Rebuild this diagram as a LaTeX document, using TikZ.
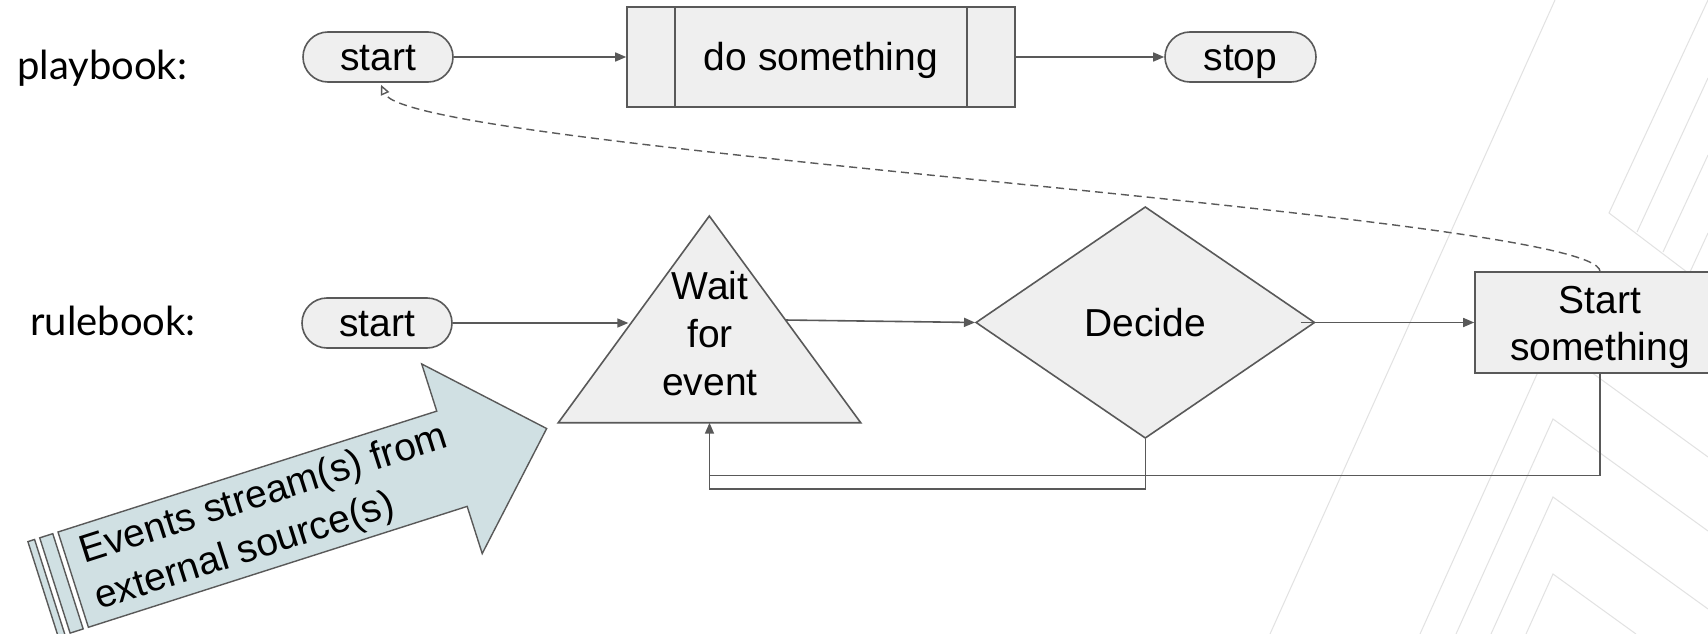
\documentclass[tikz,border=0pt]{standalone}
\usepackage{fontspec}
\setmainfont{Liberation Sans}
\newfontfamily\lanefont{Lato}
\usetikzlibrary{arrows.meta,shapes.geometric,calc}

\definecolor{lineGray}{HTML}{595959}
\definecolor{shapeFill}{HTML}{EFEFEF}
\definecolor{streamFill}{HTML}{D0E0E3}
\definecolor{decoGray}{HTML}{E2E2E2}

\tikzset{
  shapetext/.style={font=\fontsize{39}{48}\selectfont, text=black},
  onelinetext/.style={text height=35.3pt, text depth=8.3pt},
  pill/.style={draw=lineGray, fill=shapeFill, line width=1.6pt, rounded corners=25pt,
    minimum width=150pt, minimum height=50pt, inner sep=0pt, shapetext, onelinetext},
  box/.style={draw=lineGray, fill=shapeFill, line width=1.6pt, inner sep=0pt, shapetext},
  flow/.style={draw=lineGray, line width=1.6pt, -{Triangle[length=11pt,width=9pt]}},
  link/.style={draw=lineGray, line width=1.6pt},
  feedback/.style={draw=lineGray, line width=1.4pt, dash pattern=on 8pt off 5pt,
    -{Triangle[open,length=10pt,width=9pt]}},
  lanelabel/.style={font=\lanefont\fontsize{40}{46}\selectfont, anchor=base west, inner sep=0pt},
  deco/.style={draw=decoGray, line width=1pt},
  streampart/.style={draw=lineGray, fill=streamFill, line width=1.4pt, line join=miter},
}

\begin{document}
\begin{tikzpicture}[x=1pt,y=-1pt]
\useasboundingbox (0,0) rectangle (1708,634);
\fill[white] (0,0) rectangle (1708,634);
\clip (0,0) rectangle (1708,634);

% faint chevron pattern of the slide background
\draw[deco] (1555,0) -- (1270,634);
\draw[deco] (1708,0) -- (1609,213) -- (1708,288);
\draw[deco] (1637,232) -- (1708,78);
\draw[deco] (1663,252) -- (1708,155);
\draw[deco] (1690,272) -- (1708,233);
\draw[deco] (1420,634) -- (1551,343) -- (1708,457);
\draw[deco] (1456,634) -- (1553,419) -- (1708,531);
\draw[deco] (1491,634) -- (1553,497) -- (1708,609);
\draw[deco] (1526,634) -- (1553,574) -- (1636,634);

% lane labels
\node[lanelabel] (pb) at (17,79.5) {playbook:};
\node[lanelabel] (rb) at (30,335.5) {rulebook:};

% playbook lane
\node[pill] (pstart) at (378,57) {start};
\node[box, onelinetext, minimum width=388pt, minimum height=100pt] (do) at (821,57) {do something};
\draw[link] ([xshift=49pt]do.north west) -- ([xshift=49pt]do.south west);
\draw[link] ([xshift=-49pt]do.north east) -- ([xshift=-49pt]do.south east);
\node[pill, minimum width=151pt] (stop) at (1240.5,57) {stop};
\draw[flow] (pstart) -- (do);
\draw[flow] (do) -- (stop);

% rulebook lane
\node[pill] (rstart) at (377,323) {start};

\coordinate (tA) at (709.3,216);
\coordinate (tL) at (558.3,422.7);
\coordinate (tR) at (860.7,422.7);
\filldraw[draw=lineGray, fill=shapeFill, line width=1.6pt, line join=miter] (tL) -- (tA) -- (tR) -- cycle;
\node[shapetext, align=center, inner sep=0pt] (wait) at (710,333.3) {Wait\\for\\event};

\node[diamond, draw=lineGray, fill=shapeFill, line width=1.6pt, minimum width=339pt,
  minimum height=231.6pt, inner sep=0pt, shapetext, onelinetext] (decide) at (1145.3,322.5) {Decide};

\node[box, minimum width=250pt, minimum height=100.5pt, align=center,
  font=\fontsize{39}{46.5}\selectfont, text height=75pt, text depth=0pt] (act) at (1600,322.5) {Start\\something};

\coordinate (tin) at ($(tL)!0.4838!(tA)$);
\coordinate (tout) at ($(tR)!0.4968!(tA)$);
\coordinate (tbase) at ($(tL)!0.5!(tR)$);
\coordinate (join) at ($(tbase)+(0,52.8)$);

\draw[flow] (rstart.east) -- ([xshift=-3pt]tin |- rstart.east);
\draw[flow] (tout) -- (decide.west);
\draw[flow] ($(decide.east)+(-15,0)$) -- (act.west);
\draw[flow] (decide.south) -- ++(0,50) -| (tbase);
\draw[link] (act.south) |- (join);
\draw[feedback] (act.north) .. controls +(0,-57) and (410,150) .. ($(pstart.south)+(3,2)$);

% striped block arrow for the incoming event streams
\begin{scope}[shift={(58,532)}, rotate=17.7]
  \filldraw[streampart] (-31.6,0) -- (-24.6,0) -- (-24.6,100) -- (-31.6,100) -- cycle;
  \filldraw[streampart] (-19.2,0) -- (-5.5,0) -- (-5.5,100) -- (-19.2,100) -- cycle;
  \filldraw[streampart] (0,0) -- (397.6,0) -- (397.6,-49.5) -- (497,50) -- (397.6,149.5)
    -- (397.6,100) -- (0,100) -- cycle;
  \node[shapetext, anchor=base west, inner sep=0pt, rotate=17.7] (ev1) at (15.5,38.1) {Events stream(s) from};
  \node[shapetext, anchor=base west, inner sep=0pt, rotate=17.7] (ev2) at (15.5,86.6) {external source(s)};
\end{scope}
\end{tikzpicture}
\end{document}
